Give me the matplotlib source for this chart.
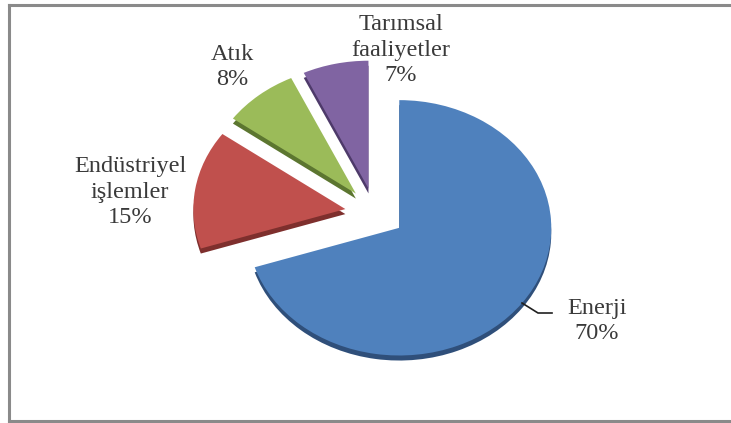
import matplotlib
matplotlib.use("Agg")
import matplotlib.pyplot as plt
from matplotlib.lines import Line2D

# Emission shares by sector
categories = ["Enerji", "Endüstriyel\nişlemler", "Atık", "Tarımsal\nfaaliyetler"]
shares = [70, 15, 8, 7]

top_colors = ["#4F81BD", "#C0504D", "#9BBB59", "#8064A2"]
side_colors = ["#2F4F7A", "#7E2F2D", "#5C7630", "#4E3A6A"]

W, H = 731, 423
SQUISH = 0.84          # vertical flattening for the tilted look
R = 152                # pie radius (data units)
CX, CY = 375, 250      # pie centre (data units)
EXPLODE = 30           # explode offset for every slice
DEPTH = 6              # thickness of the slice sides

fig = plt.figure(figsize=(W / 100, H / 100), dpi=100)
ax = fig.add_axes([0, 0, 1, 1])

# side layer, shifted down and darker
ax.pie(shares, explode=[EXPLODE] * 4, startangle=90, counterclock=False,
       colors=side_colors, center=(CX, CY - DEPTH), radius=R,
       wedgeprops=dict(linewidth=0, zorder=1))
# top layer
ax.pie(shares, explode=[EXPLODE] * 4, startangle=90, counterclock=False,
       colors=top_colors, center=(CX, CY), radius=R,
       wedgeprops=dict(linewidth=0, zorder=2))

ax.set_aspect("auto")
ax.set_xlim(0, W)
ax.set_ylim(0, H / SQUISH)
ax.axis("off")


def to_data(px, py):
    return px, (H - py) / SQUISH


label_font = dict(family=["Liberation Serif", "DejaVu Serif"], fontsize=17.5,
                  color="#3a3a3a", ha="center", va="center", linespacing=1.3,
                  zorder=5)
label_pos = [(597, 321), (130, 192), (232, 67), (401, 50)]
for name, val, (px, py) in zip(categories, shares, label_pos):
    x, y = to_data(px, py)
    ax.text(x, y, f"{name}\n{val}%", **label_font)

# leader line for the large slice
lx, ly = zip(*[to_data(*p) for p in [(522, 303), (538, 313), (552, 313)]])
ax.add_line(Line2D(lx, ly, color="#202020", lw=1.2, zorder=5))

# chart border
border = dict(color="#8a8a8a", lw=2.2, transform=fig.transFigure)
fig.add_artist(Line2D([9 / W, 9 / W], [1 - 5 / H, 1 - 421 / H], **border))
fig.add_artist(Line2D([9 / W, 1], [1 - 5 / H, 1 - 5 / H], **border))
fig.add_artist(Line2D([9 / W, 1], [1 - 421 / H, 1 - 421 / H], **border))

fig.savefig("out.png", dpi=100)
